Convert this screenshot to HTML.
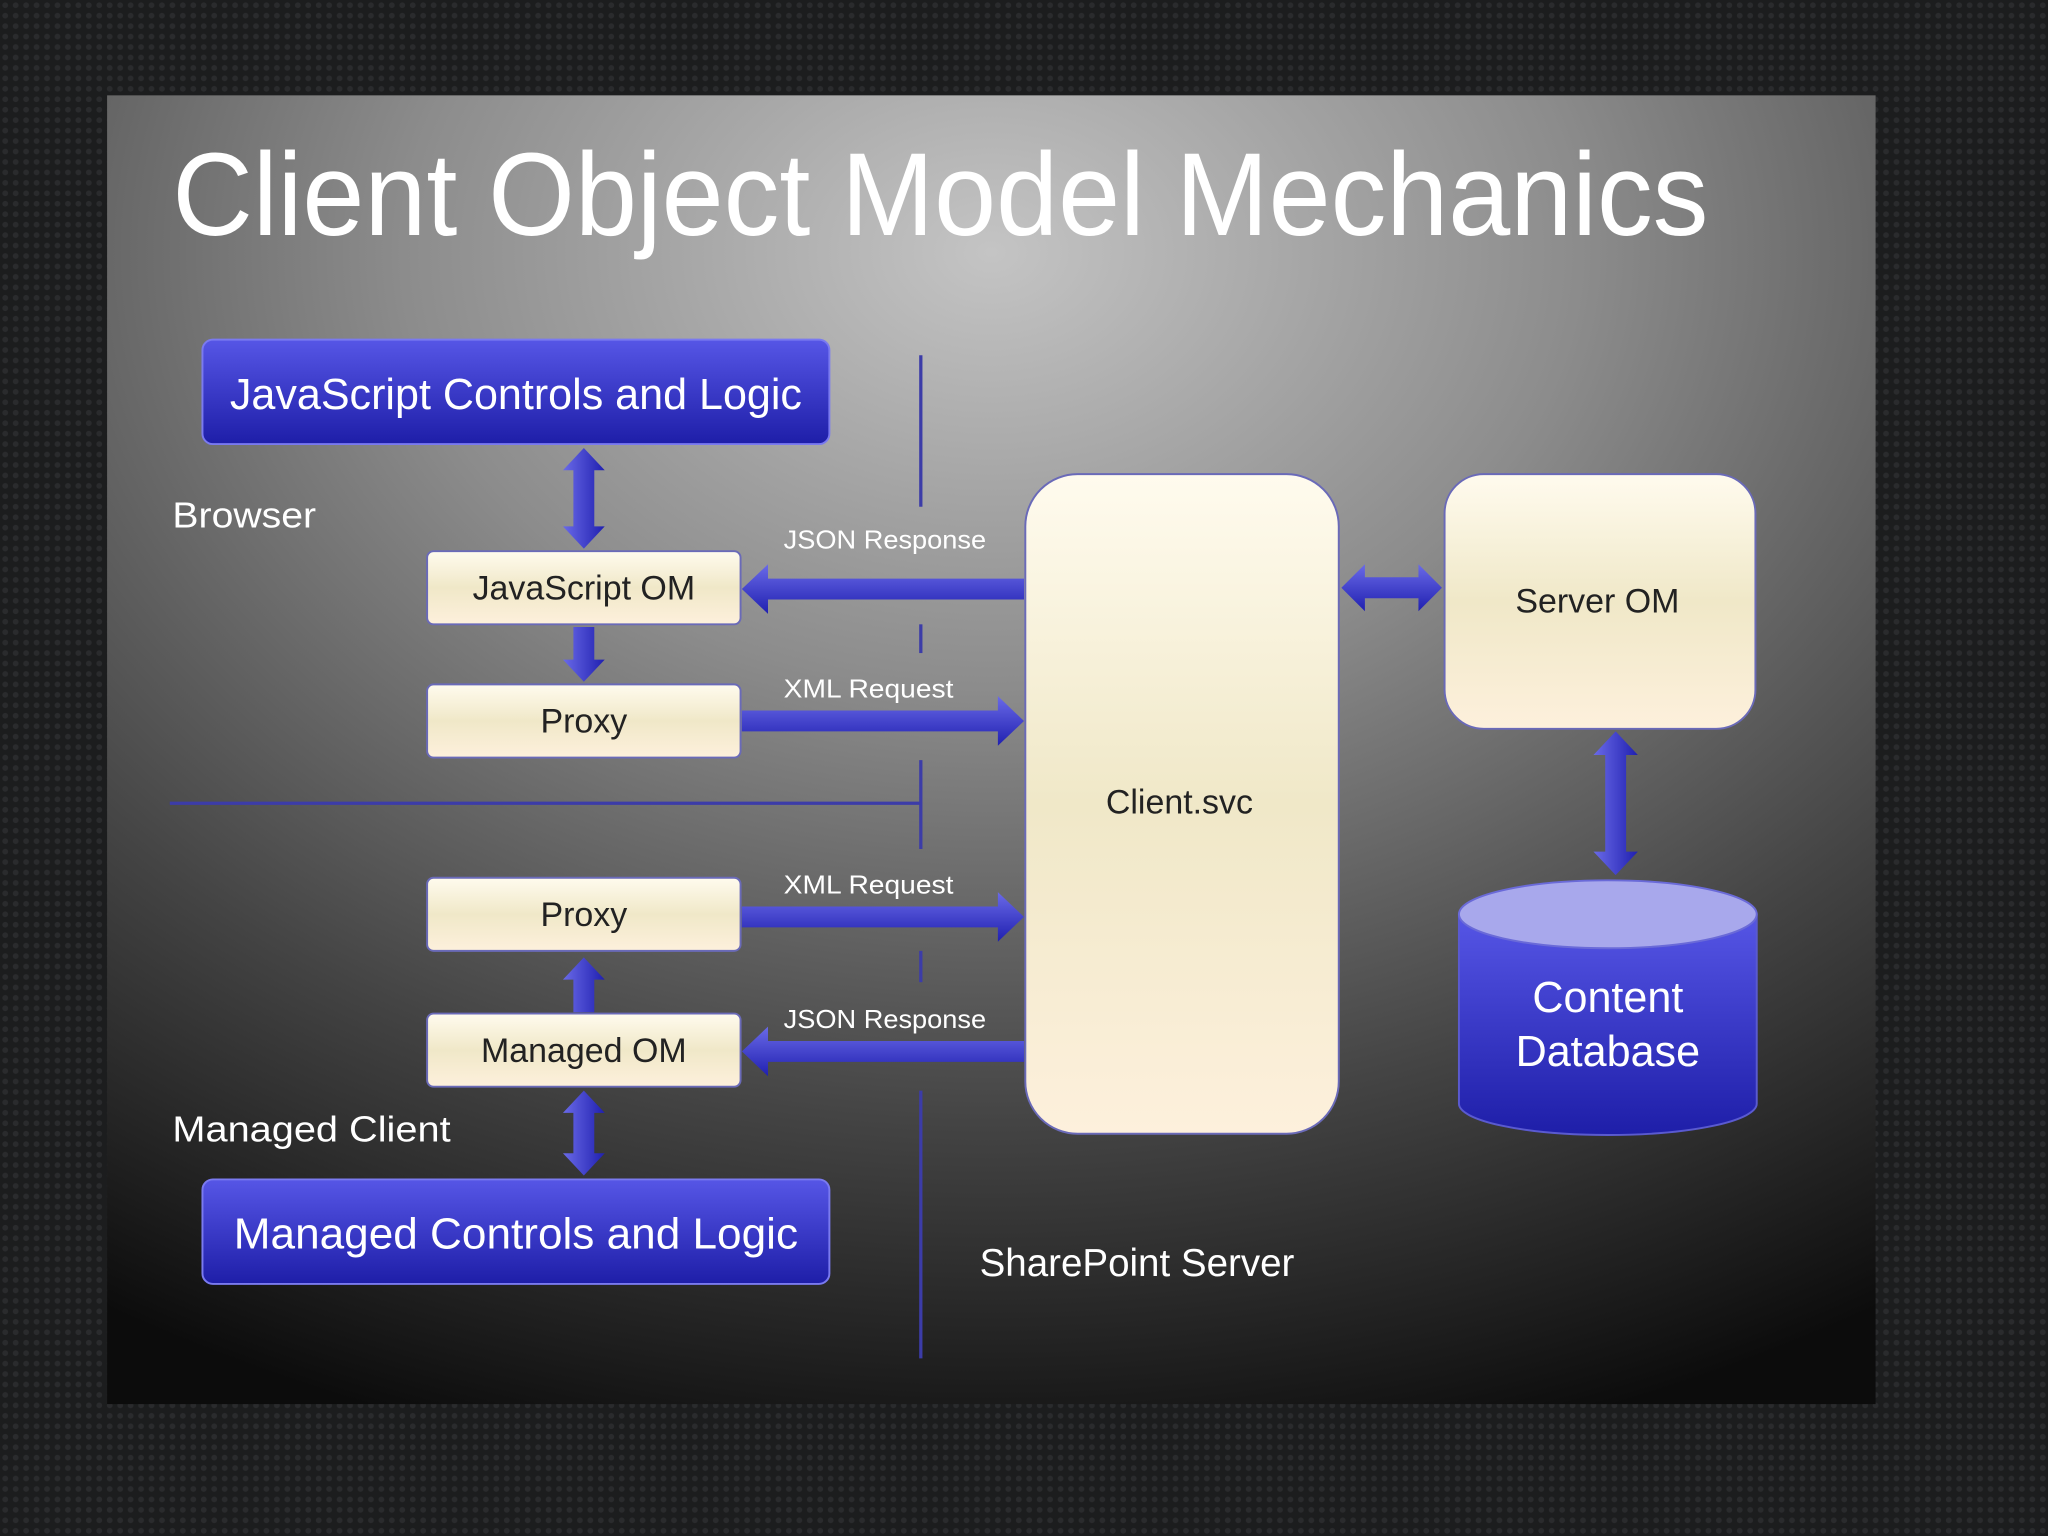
<!DOCTYPE html>
<html><head><meta charset="utf-8"><style>
html,body{margin:0;padding:0;width:2048px;height:1536px;overflow:hidden;background:#1b1b1c;}
svg{display:block}
text{font-family:"Liberation Sans",sans-serif;}
</style></head><body>
<svg width="2048" height="1536" viewBox="0 0 1568 1176" xmlns="http://www.w3.org/2000/svg">
<defs>
<pattern id="hex" width="8" height="8" patternUnits="userSpaceOnUse">
<rect width="8" height="8" fill="#1c1d1e"/><circle cx="4" cy="4" r="2.2" fill="#2a2b2d"/>
</pattern>
<radialGradient id="bg" cx="0.5" cy="0.12" r="0.95">
<stop offset="0" stop-color="#c4c4c4"/><stop offset="0.35" stop-color="#8c8c8c"/><stop offset="0.7" stop-color="#444"/><stop offset="1" stop-color="#0c0c0c"/>
</radialGradient>
<linearGradient id="blue" x1="0" y1="0" x2="0" y2="1">
<stop offset="0" stop-color="#5656e6"/><stop offset="1" stop-color="#1e1ea8"/>
</linearGradient>
<linearGradient id="cream" x1="0" y1="0" x2="0" y2="1">
<stop offset="0" stop-color="#fffbee"/><stop offset="0.5" stop-color="#f0e8c8"/><stop offset="1" stop-color="#fdf0dc"/>
</linearGradient>
<linearGradient id="arr" x1="0" y1="0" x2="0" y2="1">
<stop offset="0" stop-color="#6a6ae8"/><stop offset="1" stop-color="#2020b0"/>
</linearGradient>
<linearGradient id="arrv" x1="0" y1="0" x2="1" y2="0">
<stop offset="0" stop-color="#6a6ae8"/><stop offset="1" stop-color="#2020b0"/>
</linearGradient>
</defs>
<rect width="1568" height="1176" fill="url(#hex)"/>
<rect x="82" y="73" width="1354" height="1002" fill="url(#bg)"/>
<text x="132" y="180" font-size="90" fill="#fff" textLength="1176" lengthAdjust="spacingAndGlyphs">Client Object Model Mechanics</text>

<g stroke="#3c3ca8" stroke-width="2.5">
<line x1="705" y1="272" x2="705" y2="388"/>
<line x1="705" y1="478" x2="705" y2="500"/>
<line x1="705" y1="582" x2="705" y2="650"/>
<line x1="705" y1="728" x2="705" y2="752"/>
<line x1="705" y1="835" x2="705" y2="1040"/>
<line x1="130" y1="615" x2="705" y2="615"/>
</g>

<text x="132" y="404" font-size="28" fill="#fff" textLength="110" lengthAdjust="spacingAndGlyphs">Browser</text>
<text x="132" y="874" font-size="28" fill="#fff" textLength="213" lengthAdjust="spacingAndGlyphs">Managed Client</text>
<text x="750" y="977" font-size="30" fill="#fff" textLength="241" lengthAdjust="spacingAndGlyphs">SharePoint Server</text>

<rect x="155" y="260" width="480" height="80" rx="8" fill="url(#blue)" stroke="#7a7af0" stroke-width="1.5"/>
<text x="395" y="313" font-size="33" fill="#fff" text-anchor="middle" textLength="438" lengthAdjust="spacingAndGlyphs">JavaScript Controls and Logic</text>
<rect x="155" y="903" width="480" height="80" rx="8" fill="url(#blue)" stroke="#7a7af0" stroke-width="1.5"/>
<text x="395" y="956" font-size="33" fill="#fff" text-anchor="middle" textLength="432" lengthAdjust="spacingAndGlyphs">Managed Controls and Logic</text>

<g fill="url(#arrv)">
<path d="M447 343 L463 360 L455 360 L455 403 L463 403 L447 420 L431 403 L439 403 L439 360 L431 360 Z"/>
<path d="M439 480 L455 480 L455 505 L463 505 L447 522 L431 505 L439 505 Z"/>
<path d="M447 733 L463 750 L455 750 L455 775 L439 775 L439 750 L431 750 Z"/>
<path d="M447 835 L463 852 L455 852 L455 883 L463 883 L447 900 L431 883 L439 883 L439 852 L431 852 Z"/>
<path d="M1237 560 L1254 578 L1245 578 L1245 652 L1254 652 L1237 670 L1220 652 L1229 652 L1229 578 L1220 578 Z"/>
</g>

<g fill="url(#arr)">
<path d="M568 451 L588 432 L588 443 L784 443 L784 459 L588 459 L588 470 Z"/>
<path d="M568 544 L764 544 L764 533 L784 552 L764 571 L764 560 L568 560 Z"/>
<path d="M568 694 L764 694 L764 683 L784 702 L764 721 L764 710 L568 710 Z"/>
<path d="M568 805 L588 786 L588 797 L784 797 L784 813 L588 813 L588 824 Z"/>
<path d="M1027 450 L1045 432 L1045 442 L1086 442 L1086 432 L1104 450 L1086 468 L1086 458 L1045 458 L1045 468 Z"/>
</g>
<g font-size="20" fill="#fff">
<text x="600" y="420" textLength="155" lengthAdjust="spacingAndGlyphs">JSON Response</text>
<text x="600" y="534" textLength="130" lengthAdjust="spacingAndGlyphs">XML Request</text>
<text x="600" y="684" textLength="130" lengthAdjust="spacingAndGlyphs">XML Request</text>
<text x="600" y="787" textLength="155" lengthAdjust="spacingAndGlyphs">JSON Response</text>
</g>

<g fill="url(#cream)" stroke="#6a6ab8" stroke-width="1.5">
<rect x="327" y="422" width="240" height="56" rx="5"/>
<rect x="327" y="524" width="240" height="56" rx="5"/>
<rect x="327" y="672" width="240" height="56" rx="5"/>
<rect x="327" y="776" width="240" height="56" rx="5"/>
<rect x="785" y="363" width="240" height="505" rx="40"/>
<rect x="1106" y="363" width="238" height="195" rx="30"/>
</g>
<g font-size="26" fill="#222" text-anchor="middle">
<text x="447" y="459">JavaScript OM</text>
<text x="447" y="561">Proxy</text>
<text x="447" y="709">Proxy</text>
<text x="447" y="813">Managed OM</text>
<text x="903" y="623">Client.svc</text>
<text x="1223" y="469">Server OM</text>
</g>

<path d="M1117 700 L1117 845 A114 24 0 0 0 1345 845 L1345 700 Z" fill="url(#blue)" stroke="#5a5ad0" stroke-width="1.5"/>
<ellipse cx="1231" cy="700" rx="114" ry="26" fill="#a8a8ec" stroke="#6a6ad8" stroke-width="1.5"/>
<g font-size="33" fill="#fff" text-anchor="middle">
<text x="1231" y="775">Content</text>
<text x="1231" y="816">Database</text>
</g>
</svg>
</body></html>
